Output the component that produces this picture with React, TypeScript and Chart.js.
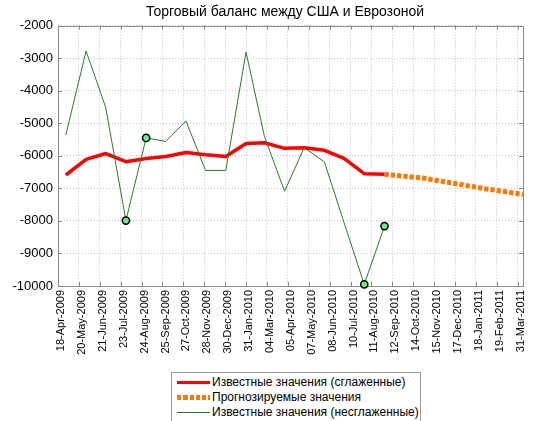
import React, { useEffect, useRef } from "react";
import { Chart, registerables } from "chart.js";

Chart.register(...registerables);

const TITLE = "Торговый баланс между США и Еврозоной";

const START_DATE = "2009-04-18";
const END_DATE = "2011-03-31";
const TICK_STEP_DAYS = 32;

const tickLabels = [
  "18-Apr-2009", "20-May-2009", "21-Jun-2009", "23-Jul-2009", "24-Aug-2009",
  "25-Sep-2009", "27-Oct-2009", "28-Nov-2009", "30-Dec-2009", "31-Jan-2010",
  "04-Mar-2010", "05-Apr-2010", "07-May-2010", "08-Jun-2010", "10-Jul-2010",
  "11-Aug-2010", "12-Sep-2010", "14-Oct-2010", "15-Nov-2010", "17-Dec-2010",
  "18-Jan-2011", "19-Feb-2011", "31-Mar-2011",
];

const knownDates = [
  "2009-04-30", "2009-05-31", "2009-06-30", "2009-07-31", "2009-08-31",
  "2009-09-30", "2009-10-31", "2009-11-30", "2009-12-31", "2010-01-31",
  "2010-02-28", "2010-03-31", "2010-04-30", "2010-05-31", "2010-06-30",
  "2010-07-31", "2010-08-31",
];

const smoothedValues = [
  -6590, -6110, -5930, -6180, -6080, -6020, -5900, -5970, -6020, -5620,
  -5600, -5770, -5750, -5830, -6080, -6550, -6570,
];

const rawValues = [
  -5360, -2780, -4510, -7990, -5450, -5560, -4930, -6450, -6450, -2810,
  -5400, -7090, -5750, -6190, -8050, -9950, -8160,
];

const markedIndices = [3, 4, 15, 16];

const forecastDates = [
  "2010-08-31", "2010-09-30", "2010-10-31", "2010-11-30", "2010-12-31",
  "2011-01-31", "2011-02-28", "2011-03-31",
];

const forecastValues = [-6570, -6625, -6690, -6795, -6900, -7010, -7090, -7190];

const Y_MIN = -10000;
const Y_MAX = -2000;
const Y_STEP = 1000;

const legendLabels = [
  "Известные значения (сглаженные)",
  "Прогнозируемые значения",
  "Известные значения (несглаженные)",
];

const FONT = "'Liberation Sans', Arial, Helvetica, sans-serif";
const RED = "#ff0000";
const ORANGE = "#ff7800";
const GREEN = "#2a7a2a";
const MARKER_FILL = "#6ee88c";
const BOX = "#8a8a8a";

const dayOf = (d: string) => (Date.parse(d) - Date.parse(START_DATE)) / 86400000;

const boxPlugin = {
  id: "matlabBox",
  beforeDatasetsDraw(chart: any) {
    const { ctx, chartArea: a, scales } = chart;
    ctx.save();
    ctx.strokeStyle = BOX;
    ctx.lineWidth = 1;
    ctx.setLineDash([]);
    ctx.beginPath();
    const L = 4;
    scales.x.ticks.forEach((t: any) => {
      const px = Math.round(scales.x.getPixelForValue(t.value)) + 0.5;
      ctx.moveTo(px, a.bottom);
      ctx.lineTo(px, a.bottom - L);
      ctx.moveTo(px, a.top);
      ctx.lineTo(px, a.top + L);
    });
    scales.y.ticks.forEach((t: any) => {
      const py = Math.round(scales.y.getPixelForValue(t.value)) + 0.5;
      ctx.moveTo(a.left, py);
      ctx.lineTo(a.left + L, py);
      ctx.moveTo(a.right, py);
      ctx.lineTo(a.right - L, py);
    });
    ctx.stroke();
    ctx.strokeRect(Math.round(a.left) + 0.5, Math.round(a.top) + 0.5, Math.round(a.right - a.left), Math.round(a.bottom - a.top));
    ctx.restore();
  },
  afterDraw(chart: any) {
    const { ctx } = chart;
    ctx.save();
    ctx.fillStyle = "#000";
    ctx.font = `14px ${FONT}`;
    ctx.textAlign = "center";
    ctx.textBaseline = "middle";
    ctx.fillText(TITLE, 285, 12);
    ctx.restore();
  },
};

export default function App() {
  const ref = useRef<HTMLCanvasElement | null>(null);

  useEffect(() => {
    if (!ref.current) return;
    const chart = new Chart(ref.current, {
      type: "line",
      data: {
        datasets: [
          {
            label: legendLabels[2],
            data: knownDates.map((d, i) => ({ x: dayOf(d), y: rawValues[i] })),
            borderColor: GREEN,
            borderWidth: 1,
            pointRadius: (c: any) => (markedIndices.includes(c.dataIndex) ? 3.6 : 0),
            pointBackgroundColor: MARKER_FILL,
            pointBorderColor: "#000",
            pointBorderWidth: 1.5,
            tension: 0,
            clip: false as any,
          },
          {
            label: legendLabels[0],
            data: knownDates.map((d, i) => ({ x: dayOf(d), y: smoothedValues[i] })),
            borderColor: RED,
            borderWidth: 3.5,
            pointRadius: 0,
            tension: 0,
            borderJoinStyle: "round",
          },
          {
            label: legendLabels[1],
            data: forecastDates.map((d, i) => ({ x: dayOf(d), y: forecastValues[i] })),
            borderColor: ORANGE,
            borderWidth: 5,
            borderDash: [4.3, 2],
            borderCapStyle: "butt",
            pointRadius: 0,
            tension: 0,
          },
        ],
      },
      options: {
        animation: false,
        responsive: false,
        layout: { padding: { left: 0, right: 8, top: 25.6, bottom: 0 } },
        plugins: {
          legend: { display: false },
          tooltip: { enabled: false },
          title: { display: false },
        },
        scales: {
          x: {
            type: "linear",
            min: 0,
            max: dayOf(END_DATE),
            afterBuildTicks: (s: any) => {
              s.ticks = tickLabels.map((_, i) => ({ value: i * TICK_STEP_DAYS }));
            },
            afterFit: (s: any) => {
              s.height = 76;
            },
            ticks: {
              autoSkip: false,
              maxRotation: 90,
              minRotation: 90,
              padding: 4,
              labelOffset: 3,
              color: "#000",
              font: { family: FONT, size: 11 },
              callback: (_v: any, i: number) => tickLabels[i],
            },
            grid: { color: "#c4c4c4", drawTicks: false, lineWidth: 1 },
            border: { display: false, dash: [1, 2] },
          },
          y: {
            type: "linear",
            min: Y_MIN,
            max: Y_MAX,
            afterFit: (s: any) => {
              s.width = 58;
            },
            ticks: {
              stepSize: Y_STEP,
              padding: 5,
              color: "#000",
              font: { family: FONT, size: 13 },
              callback: (v: any) => String(v),
            },
            grid: { color: "#c4c4c4", drawTicks: false, lineWidth: 1 },
            border: { display: false, dash: [1, 2] },
          },
        },
      } as any,
      plugins: [boxPlugin],
    });
    return () => chart.destroy();
  }, []);

  const sampleBase: React.CSSProperties = { position: "absolute", left: 5, width: 33 };

  return (
    <div style={{ position: "absolute", left: 0, top: 0, width: 535, height: 421, overflow: "hidden", background: "#fff" }}>
      <canvas ref={ref} width={535} height={362} style={{ display: "block", width: 535, height: 362 }} />
      <div
        style={{
          position: "absolute",
          left: 171,
          top: 372,
          width: 248,
          height: 60,
          border: "1px solid #9a9a9a",
          background: "#fff",
          fontFamily: FONT,
          fontSize: 12,
          color: "#000",
        }}
      >
        {legendLabels.map((t, i) => (
          <div key={t} style={{ position: "absolute", left: 0, top: 2 + i * 14.8, height: 15, width: 248 }}>
            {i === 0 && <div style={{ ...sampleBase, top: 6, height: 3, background: RED }} />}
            {i === 1 && (
              <div
                style={{
                  ...sampleBase,
                  top: 5.5,
                  height: 4.5,
                  background: `repeating-linear-gradient(to right, ${ORANGE} 0px, ${ORANGE} 4.3px, transparent 4.3px, transparent 6.3px)`,
                }}
              />
            )}
            {i === 2 && <div style={{ ...sampleBase, top: 7, height: 1, background: GREEN }} />}
            <span style={{ position: "absolute", left: 40, top: 0, lineHeight: "15px", whiteSpace: "nowrap" }}>{t}</span>
          </div>
        ))}
      </div>
    </div>
  );
}
